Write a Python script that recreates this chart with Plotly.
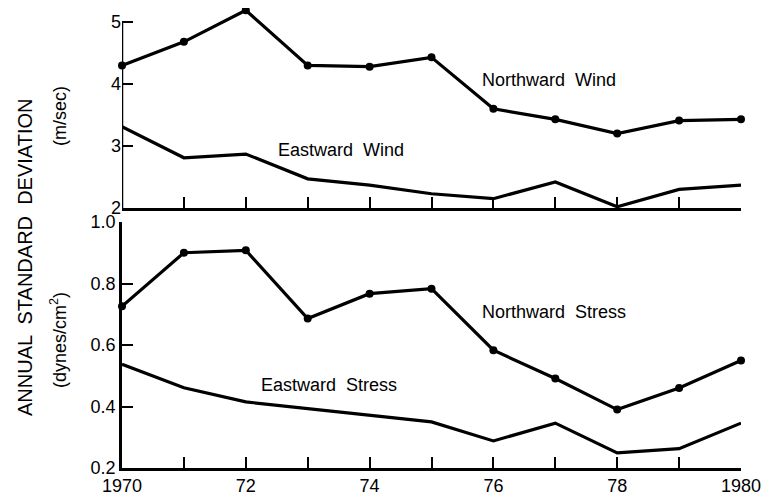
import plotly.graph_objects as go

years = [1970, 1971, 1972, 1973, 1974, 1975, 1976, 1977, 1978, 1979, 1980]
northward_wind = [4.30, 4.68, 5.19, 4.30, 4.28, 4.43, 3.60, 3.43, 3.20, 3.41, 3.43]
eastward_wind = [3.31, 2.81, 2.87, 2.47, 2.37, 2.23, 2.15, 2.42, 2.02, 2.30, 2.37]
northward_stress = [0.726, 0.900, 0.908, 0.686, 0.767, 0.783, 0.583, 0.491, 0.390, 0.460, 0.550]
eastward_stress = [0.537, 0.461, 0.415, 0.393, 0.371, 0.350, 0.288, 0.346, 0.249, 0.263, 0.346]
year_labels = ["1970", "", "72", "", "74", "", "76", "", "78", "", "1980"]
wind_ticks = [2, 3, 4, 5]
stress_ticks = [0.2, 0.4, 0.6, 0.8, 1.0]
stress_labels = ["0.2", "0.4", "0.6", "0.8", "1.0"]

FONT = "Liberation Sans, Arial, sans-serif"
W, H = 767, 494   # page body adds an 8px margin in the 775x502 window
OFF = 8


def px(x):
    return (x - OFF) / W


def py(y):
    return 1 - (y - OFF) / H


line = dict(color="black", width=3.2)
mk = dict(color="black", size=8)

fig = go.Figure()
fig.add_trace(go.Scatter(x=years, y=northward_wind, mode="lines+markers", line=line, marker=mk,
                         xaxis="x", yaxis="y", cliponaxis=False))
fig.add_trace(go.Scatter(x=years, y=eastward_wind, mode="lines", line=line,
                         xaxis="x", yaxis="y", cliponaxis=False))
fig.add_trace(go.Scatter(x=years, y=northward_stress, mode="lines+markers", line=line, marker=mk,
                         xaxis="x2", yaxis="y2", cliponaxis=False))
fig.add_trace(go.Scatter(x=years, y=eastward_stress, mode="lines", line=line,
                         xaxis="x2", yaxis="y2", cliponaxis=False))

axis_common = dict(showline=True, linecolor="black", linewidth=2.5, ticks="inside",
                   ticklen=11, tickwidth=2, tickcolor="black", showgrid=False, zeroline=False,
                   automargin=False, tickfont=dict(family=FONT, size=18, color="black"))
xdom = [px(122), px(741)]
fig.update_layout(
    width=W, height=H, margin=dict(l=0, r=0, t=0, b=0, autoexpand=False),
    paper_bgcolor="white", plot_bgcolor="white", showlegend=False,
    font=dict(family=FONT, color="black"),
    xaxis=dict(axis_common, domain=xdom, range=[1970, 1980], tickvals=years,
               showticklabels=False, anchor="y"),
    # range runs a little past 5 so the 1972 peak is not cut; the axis line stops at 5
    yaxis=dict(axis_common, domain=[py(208), py(22 - 0.2 * 62)], range=[2, 5.2],
               tickvals=wind_ticks, anchor="x", showline=False),
    xaxis2=dict(axis_common, domain=xdom, range=[1970, 1980], tickvals=years,
                ticktext=year_labels, anchor="y2"),
    yaxis2=dict(axis_common, domain=[py(468), py(222)], range=[0.2, 1.0],
                tickvals=stress_ticks, ticktext=stress_labels, anchor="x2"),
)
fig.add_shape(type="line", xref="x", yref="y", x0=1970, x1=1970, y0=2, y1=5,
              line=dict(color="black", width=2.5))

label_font = dict(family=FONT, size=18, color="black")
curve_labels = [
    (1976.9, 4.06, "x", "y", "Northward  Wind"),
    (1973.54, 2.93, "x", "y", "Eastward  Wind"),
    (1976.98, 0.706, "x2", "y2", "Northward  Stress"),
    (1973.35, 0.469, "x2", "y2", "Eastward  Stress"),
]
for x, y, xr, yr, txt in curve_labels:
    fig.add_annotation(x=x, y=y, xref=xr, yref=yr, text=txt, showarrow=False,
                       xanchor="center", yanchor="middle", font=label_font)

fig.add_annotation(x=px(25), y=py(258), xref="paper", yref="paper",
                   text="ANNUAL  STANDARD  DEVIATION", textangle=-90, showarrow=False,
                   xanchor="center", yanchor="middle",
                   font=dict(family=FONT, size=20, color="black"))
fig.add_annotation(x=px(60), y=py(116), xref="paper", yref="paper",
                   text="(m/sec)", textangle=-90, showarrow=False,
                   xanchor="center", yanchor="middle",
                   font=dict(family=FONT, size=18, color="black"))
fig.add_annotation(x=px(58), y=py(340), xref="paper", yref="paper",
                   text="(dynes/cm<sup>2</sup>)", textangle=-90, showarrow=False,
                   xanchor="center", yanchor="middle",
                   font=dict(family=FONT, size=18, color="black"))

fig.write_html("out.html")
